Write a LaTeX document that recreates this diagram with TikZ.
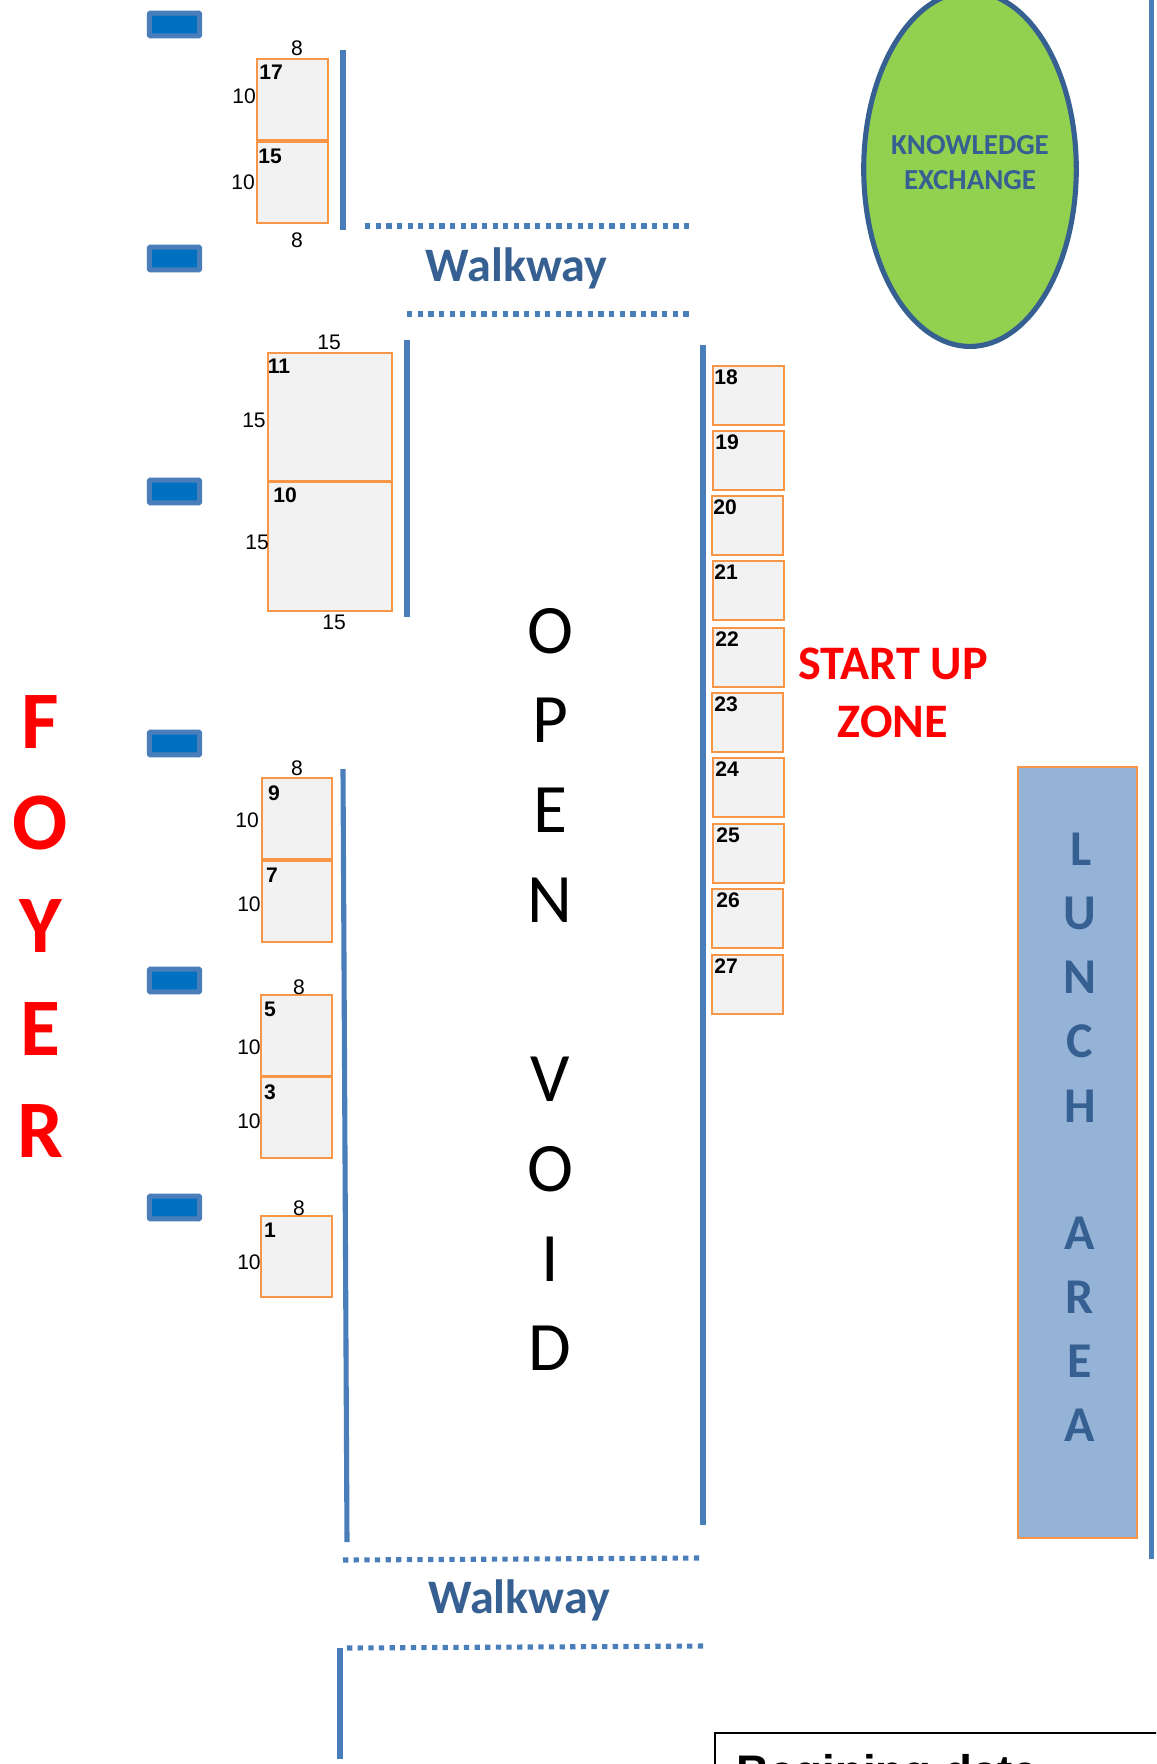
\documentclass[tikz,border=0pt]{standalone}
\usepackage{fontspec}
\setmainfont{Carlito}
\newfontfamily\arialfont{Liberation Sans}
\usetikzlibrary{shapes.geometric,positioning}
\definecolor{wallblue}{HTML}{4A7EBB}
\definecolor{boothorange}{HTML}{F79646}
\definecolor{boothgrey}{HTML}{F2F2F2}
\definecolor{titleblue}{HTML}{376092}
\definecolor{greenzone}{HTML}{92D050}
\definecolor{lunchblue}{HTML}{95B3D7}
\definecolor{doorblue}{HTML}{0070C0}
\begin{document}
\begin{tikzpicture}
    [
        x=0.02cm, y=-0.02cm,
        wall/.style={draw=wallblue, line width=2.9pt},
        walkline/.style={draw=wallblue, line width=2.9pt, dash pattern=on 3pt off 3.05pt},
        door/.style={rectangle, draw=wallblue, fill=doorblue, line width=2.9pt, rounded corners=0.6pt, inner sep=0pt, outer sep=0pt, minimum width=28.6pt, minimum height=13pt},
        booth/.style={rectangle, draw=boothorange, fill=boothgrey, line width=1.6pt, inner sep=0pt},
        boothnum/.style={font=\arialfont\bfseries\fontsize{12}{12}\selectfont, inner sep=0pt},
        dim/.style={font=\arialfont\fontsize{12}{12}\selectfont, inner sep=0pt},
        walktext/.style={font=\bfseries\fontsize{27.4}{28}\selectfont, text=titleblue, inner sep=0pt},
        foyertext/.style={font=\bfseries\fontsize{46.5}{48}\selectfont, text=red, inner sep=0pt},
        voidtext/.style={font=\fontsize{39.5}{40}\selectfont, text=black, inner sep=0pt},
        lunchtext/.style={font=\bfseries\fontsize{28.5}{30}\selectfont, text=titleblue, inner sep=0pt},
    ]
    \useasboundingbox (0,0) rectangle (1156,1764);

    % doors
    \foreach \name/\ypos in {a/24.5,b/258.5,c/491.5,d/743.5,e/980.5,f/1207.5}
        \node[door] (door\name) at (174.5,\ypos) {};

    % walls
    \draw[wall] (343,50) -- (343,230);
    \draw[wall] (407,340) -- (407,617);
    \draw[wall] (343,769) -- (347,1542);
    \draw[wall] (703,345) -- (703,1525);
    \draw[wall] (340,1648) -- (340,1759);
    \draw[wall] (1151.5,0) -- (1151.5,1559);

    % walkways
    \draw[walkline] (365,226) -- (691,226);
    \draw[walkline] (407,314) -- (690,314);
    \draw[walkline] (343,1560) -- (700,1558);
    \draw[walkline] (347,1648) -- (704,1646);
    \node[walktext] (walk1) at (516.5,268) {Walkway};
    \node[walktext] (walk2) at (519,1600) {Walkway};

    % booths left
    \foreach \name/\xa/\ya/\xb/\yb in {17/257/59/328/140, 15/257/142/328/223, 11/268/353/392/481, 10/268/482/392/611, 9/262/778/332/859, 7/262/861/332/942, 5/261/995/332/1076, 3/261/1077/332/1158, 1/261/1216/332/1297}
        \path[booth] (\xa,\ya) rectangle (\xb,\yb);

    \node[boothnum] (n17) at (271,72) {17};
    \node[boothnum] (n15) at (270,156) {15};
    \node[boothnum] (n11) at (279,366) {11};
    \node[boothnum] (n10) at (285,495) {10};
    \node[boothnum] (n9) at (274,793) {9};
    \node[boothnum] (n7) at (272,875) {7};
    \node[boothnum] (n5) at (270,1009) {5};
    \node[boothnum] (n3) at (270,1092) {3};
    \node[boothnum] (n1) at (270,1230) {1};

    % dimensions
    \foreach \txt/\xpos/\ypos in {8/297/48, 10/244/96, 10/243/182, 8/297/240, 15/329/342, 15/254/420, 15/257/542, 15/334/622, 8/297/768, 10/247/820, 10/249/904, 8/299/987, 10/249/1047, 10/249/1121, 8/299/1208, 10/249/1262}
        \node[dim] at (\xpos,\ypos) {\txt};

    % booths right
    \foreach \num/\xa/\ya/\xtxt in {18/713/366/726, 19/713/431/727, 20/712/496/725, 21/713/561/726, 22/713/628/727, 23/712/693/726, 24/713/758/727, 25/713/824/728, 26/712/889/728, 27/712/955/726}
    {
        \path[booth] (\xa,\ya) rectangle ++(71,59);
        \node[boothnum] (n\num) at (\xtxt,\ya+11) {\num};
    }

    % knowledge exchange
    \node[ellipse, draw=titleblue, fill=greenzone, line width=2.9pt, minimum width=121pt, minimum height=202pt, inner sep=0pt, outer sep=0pt] (knowledge) at (970,169) {};
    \node[font=\bfseries\fontsize{16.5}{20}\selectfont, text=titleblue, align=center, inner sep=0pt] (knowledgetext) at (970,163) {KNOWLEDGE\\EXCHANGE};

    % lunch area
    \path[draw=boothorange, fill=lunchblue, line width=1.6pt] (1018,767) rectangle (1137,1538);
    \node[lunchtext] at (1081,849) {L};
    \node[lunchtext] at (1080,913) {U};
    \node[lunchtext] at (1080,977) {N};
    \node[lunchtext] at (1080,1041) {C};
    \node[lunchtext] at (1080,1106) {H};
    \node[lunchtext] at (1080,1233) {A};
    \node[lunchtext] at (1080,1297) {R};
    \node[lunchtext] at (1080,1361) {E};
    \node[lunchtext] at (1080,1425) {A};

    % start up zone
    \node[font=\bfseries\fontsize{27.4}{33}\selectfont, text=red, align=center, inner sep=0pt] (startup) at (893,693) {START UP\\ZONE};

    % foyer
    \node[foyertext] at (40.5,722) {F};
    \node[foyertext] at (40.5,823) {O};
    \node[foyertext] at (40.5,926) {Y};
    \node[foyertext] at (40.5,1029) {E};
    \node[foyertext] at (40.5,1131) {R};

    % open void
    \node[voidtext] at (550,631) {O};
    \node[voidtext] at (550,720) {P};
    \node[voidtext] at (550,810) {E};
    \node[voidtext] at (550,900) {N};
    \node[voidtext] at (550,1079) {V};
    \node[voidtext] at (550,1169) {O};
    \node[voidtext] at (550,1259) {I};
    \node[voidtext] at (550,1348) {D};

    % bottom box
    \begin{scope}
        \clip (0,0) rectangle (1156,1764);
        \path[draw=black, fill=white, line width=1pt] (715,1733) rectangle (1200,1900);
        \node[font=\arialfont\bfseries\fontsize{26}{28}\selectfont, anchor=base west, inner sep=0pt] (boxtitle) at (736,1787) {Begining date};
    \end{scope}
\end{tikzpicture}
\end{document}
